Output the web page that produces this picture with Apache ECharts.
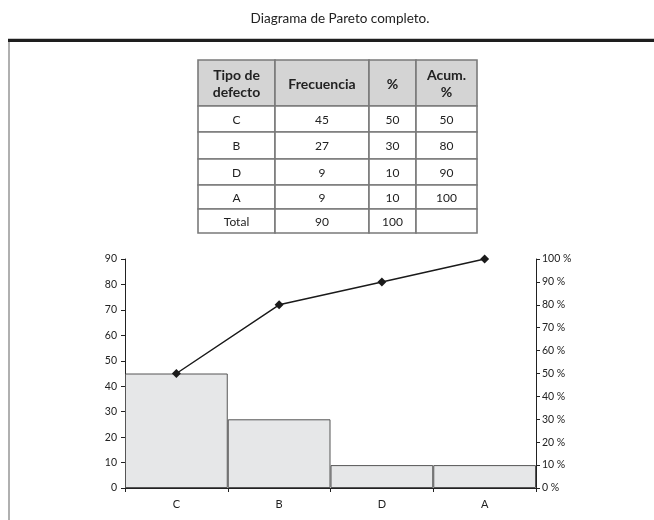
<!DOCTYPE html>
<html><head><meta charset="utf-8">
<script src="https://cdn.jsdelivr.net/npm/echarts@6/dist/echarts.min.js"></script>
<style>html,body{margin:0;padding:0;background:#fff}#c{width:654px;height:520px}</style>
</head><body><div id="c"></div>
<script>
// ---- data ----
const titleText = 'Diagrama de Pareto completo.';
const categories = ['C', 'B', 'D', 'A'];
const frequency = [45, 27, 9, 9];
const percent = [50, 30, 10, 10];
const cumulative = [50, 80, 90, 100];
const totalLabel = 'Total';
const totalFrequency = 90;
const totalPercent = 100;
const tableHeaders = ['Tipo de\ndefecto', 'Frecuencia', '%', 'Acum.\n%'];

// ---- layout ----
const colX = [198, 275, 369, 416, 477];
const rowY = [60, 106, 132, 159, 185, 209, 233];
const FONT = 'Lato, "Open Sans", sans-serif';

const graphics = [];
// frame
graphics.push({type: 'rect', shape: {x: 8, y: 40, width: 2, height: 480}, style: {fill: '#b0b0b0'}, silent: true});
graphics.push({type: 'rect', shape: {x: 8, y: 38, width: 646, height: 1}, style: {fill: '#c8c8c8'}, silent: true});
graphics.push({type: 'rect', shape: {x: 8, y: 39, width: 646, height: 3}, style: {fill: '#1e1e1e'}, silent: true});
// title
graphics.push({type: 'text', x: 340, y: 19, style: {text: titleText, font: '13.5px ' + FONT, fill: '#222', textAlign: 'center', textVerticalAlign: 'middle'}, silent: true});

// table rows content
const rows = [tableHeaders];
for (let i = 0; i < categories.length; i++) {
  rows.push([categories[i], String(frequency[i]), String(percent[i]), String(cumulative[i])]);
}
rows.push([totalLabel, String(totalFrequency), String(totalPercent), '']);

for (let r = 0; r < rows.length; r++) {
  for (let c = 0; c < 4; c++) {
    const x0 = colX[c], x1 = colX[c + 1], y0 = rowY[r], y1 = rowY[r + 1];
    graphics.push({type: 'rect', shape: {x: x0, y: y0, width: x1 - x0, height: y1 - y0},
      style: {fill: r === 0 ? '#d4d4d4' : '#ffffff', stroke: '#7a7a7a', lineWidth: 1.6}, silent: true});
    graphics.push({type: 'text', x: (x0 + x1) / 2, y: (y0 + y1) / 2 + 1,
      style: {text: rows[r][c], textAlign: 'center', textVerticalAlign: 'middle',
        font: r === 0 ? 'bold 14px ' + FONT : '12px ' + FONT, fill: '#222', lineHeight: 17}, silent: true});
  }
}

const chart = echarts.init(document.getElementById('c'), null, {renderer: 'canvas'});
chart.setOption({
  animation: false,
  backgroundColor: '#fff',
  textStyle: {fontFamily: FONT},
  grid: {left: 125, right: 118, top: 259, bottom: 32},
  xAxis: {
    type: 'category', data: categories, boundaryGap: true,
    axisLine: {lineStyle: {color: '#222', width: 1}},
    axisTick: {show: true, length: 4, lineStyle: {color: '#222'}},
    axisLabel: {color: '#222', fontSize: 11, margin: 11, fontFamily: FONT}
  },
  yAxis: [
    {type: 'value', min: 0, max: 90, interval: 10,
      axisLine: {show: true, lineStyle: {color: '#222'}},
      axisTick: {show: true, length: 4, lineStyle: {color: '#222'}},
      splitLine: {show: false},
      axisLabel: {color: '#222', fontSize: 10.5, margin: 8, fontFamily: FONT}},
    {type: 'value', min: 0, max: 100, interval: 10, position: 'right',
      axisLine: {show: true, lineStyle: {color: '#222'}},
      axisTick: {show: true, length: 4, lineStyle: {color: '#222'}},
      splitLine: {show: false},
      axisLabel: {color: '#222', fontSize: 10.5, margin: 6, fontFamily: FONT, formatter: '{value} %'}}
  ],
  series: [
    {type: 'bar', data: frequency, barCategoryGap: '0%', yAxisIndex: 0,
      itemStyle: {color: '#e6e7e8', borderColor: '#555', borderWidth: 1}, silent: true},
    {type: 'line', data: cumulative, yAxisIndex: 1, symbol: 'diamond', symbolSize: 9,
      lineStyle: {color: '#1a1a1a', width: 1.5}, itemStyle: {color: '#1a1a1a'}, silent: true, z: 5}
  ],
  graphic: graphics
});
</script>
</body></html>
